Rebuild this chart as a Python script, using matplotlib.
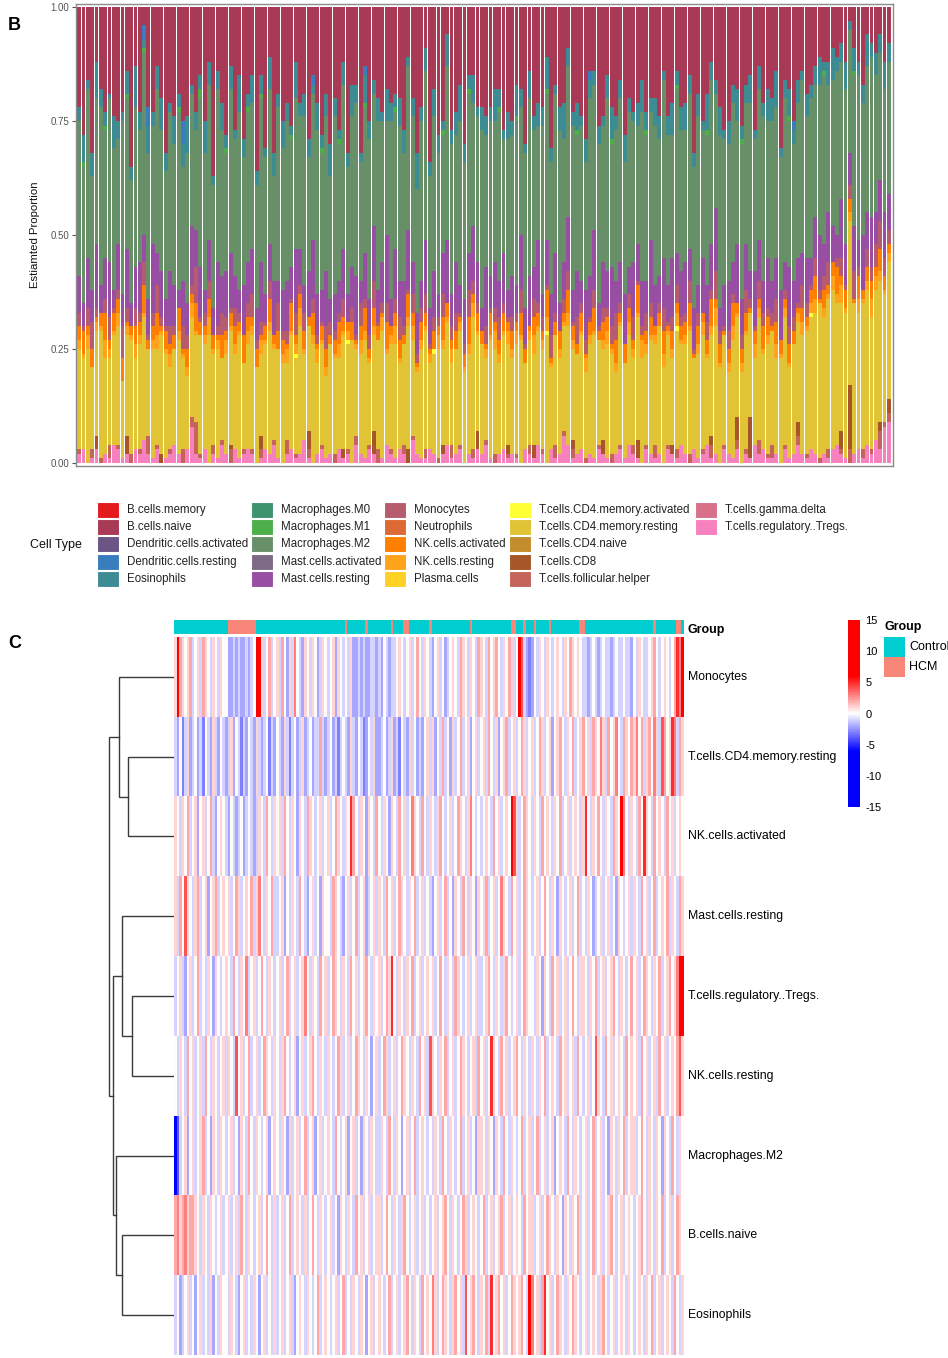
import matplotlib
matplotlib.use("Agg")
import matplotlib.pyplot as plt
import numpy as np
from matplotlib.colors import LinearSegmentedColormap, ListedColormap
from matplotlib.patches import Rectangle

plt.rcParams['font.family'] = ['Liberation Sans', 'DejaVu Sans']
plt.rcParams['axes.unicode_minus'] = False

# ---------------- panel B data (percent of each sample) ----------------
cell_types = ["B.cells.memory", "B.cells.naive", "Dendritic.cells.activated",
              "Dendritic.cells.resting", "Eosinophils", "Macrophages.M0",
              "Macrophages.M1", "Macrophages.M2", "Mast.cells.activated",
              "Mast.cells.resting", "Monocytes", "Neutrophils",
              "NK.cells.activated", "NK.cells.resting", "Plasma.cells",
              "T.cells.CD4.memory.activated", "T.cells.CD4.memory.resting",
              "T.cells.CD4.naive", "T.cells.CD8", "T.cells.follicular.helper",
              "T.cells.gamma.delta", "T.cells.regulatory..Tregs."]
cell_colors = ["#E41A1C", "#A83A55", "#6B5585", "#3A7DBE", "#3E8C93", "#3F9470",
               "#4DAF4A", "#679068", "#7F6A86", "#984EA3", "#B65C6E", "#DD6A34",
               "#FF7F00", "#FFA41A", "#FFD124", "#FFFF33", "#E0C436", "#C38C2C",
               "#A65628", "#C4645A", "#D8708A", "#F781BF"]

tregs = [2,3,0,1,3,0,2,1,4,3,1,2,0,3,2,5,2,1,3,0,
         1,2,4,2,0,3,8,2,1,3,0,2,1,4,2,0,3,1,2,3,
         2,0,1,3,2,4,1,0,2,3,1,2,5,1,0,2,3,1,2,0,
         3,1,2,0,4,2,1,3,2,0,1,4,2,1,3,2,0,5,2,1,
         1,3,2,0,2,4,1,2,3,0,2,1,3,2,4,1,0,2,3,1,
         2,1,0,3,2,1,4,2,0,3,1,2,6,4,1,2,3,0,2,1,
         3,2,1,0,2,3,1,4,2,1,0,3,2,1,2,0,3,2,1,4,
         2,0,3,1,2,4,1,2,0,3,2,1,3,0,2,1,4,2,3,1,
         1,2,0,3,1,2,4,2,
         1,3,2,0,2,1,3,4,2,1,0,2,3,1,4,2,5,3,8,9]
tfh = [1,0,0,2,0,1,0,3,0,1,0,0,2,0,1,0,4,0,1,0,
       0,1,0,0,3,0,2,7,1,0,0,2,0,1,0,3,0,0,1,0,
       1,0,2,0,0,1,0,0,3,0,1,0,0,2,0,0,1,0,0,2,
       0,0,1,0,2,0,0,1,0,3,0,0,1,0,0,2,0,1,0,0,
       2,0,0,1,0,0,3,0,1,0,0,2,0,0,1,0,2,0,0,1,
       0,1,0,0,2,0,0,1,0,0,3,0,1,0,2,0,0,1,0,0,
       1,0,0,2,0,1,0,0,2,0,0,1,0,3,0,0,1,0,2,0,
       0,2,0,0,1,0,3,0,0,1,0,0,2,0,1,0,0,3,0,1,
       3,0,0,1,0,0,2,0,
       1,0,0,1,0,2,0,0,1,0,3,0,0,2,0,1,0,4,1,2]
cd8 = [0,0,0,0,3,0,0,0,0,0,0,4,0,0,0,0,0,0,0,2,
       0,0,0,0,0,0,0,0,0,0,0,0,0,0,0,1,0,0,0,0,
       0,0,3,0,0,0,0,0,0,0,0,0,0,4,0,0,0,0,0,0,
       0,2,0,0,0,0,0,0,5,0,0,0,0,0,0,0,3,0,0,0,
       0,0,0,0,2,0,0,0,0,0,0,0,4,0,0,0,0,0,0,2,
       0,0,0,0,0,3,0,0,0,0,0,0,0,0,2,0,0,0,0,0,
       0,3,0,0,0,0,0,0,0,4,0,0,0,0,0,0,0,2,0,0,
       0,0,0,0,0,0,2,0,0,0,0,0,5,0,0,9,0,0,0,0,
       0,0,0,0,0,0,3,0,
       0,0,0,0,0,0,0,0,4,0,14,0,0,0,0,0,0,2,0,3]
cd4_mem_resting = [22,20,25,18,23,28,21,19,24,26,17,22,25,20,23,27,19,24,21,26,
                   23,18,21,25,20,16,22,19,26,23,28,20,24,18,22,25,21,27,19,23,
                   25,21,18,23,27,20,24,22,17,25,21,28,19,23,26,20,22,18,24,21,
                   20,25,23,27,19,22,26,18,21,24,28,20,23,25,19,22,27,21,18,24,
                   26,19,22,24,21,27,18,23,25,20,22,29,21,24,18,26,23,20,25,22,
                   21,24,27,19,23,20,25,22,28,18,24,21,23,26,20,22,25,19,24,27,
                   23,20,25,22,18,26,21,24,19,27,23,20,25,22,28,21,24,19,26,22,
                   24,27,20,23,25,19,22,28,21,24,18,26,22,20,25,23,19,27,21,24,
                   25,21,23,28,20,24,22,26,
                   27,29,31,34,30,33,35,31,28,32,36,33,30,32,34,29,33,31,28,30]
cd4_mem_activated = [0,0,0,0,0,0,0,0,0,0,0,0,0,0,0,0,0,0,0,0,
                     0,0,0,0,0,0,0,0,0,0,0,0,0,0,0,0,0,0,0,0,
                     0,0,0,0,0,0,0,0,0,0,1,0,0,0,0,0,0,0,0,0,
                     0,0,1,0,0,0,0,0,0,0,0,0,0,0,0,0,0,0,0,0,
                     0,0,1,0,0,0,0,0,0,0,0,0,0,0,0,0,0,0,0,0,
                     0,0,0,0,0,0,0,0,1,0,0,0,0,0,0,0,0,0,0,0,
                     0,0,0,0,0,0,0,0,0,0,0,0,0,0,0,0,0,0,1,0,
                     0,0,0,0,0,0,0,0,0,0,0,0,0,0,0,0,0,0,0,0,
                     0,0,0,0,0,0,0,0,
                     0,1,0,0,0,0,0,0,0,0,0,0,0,0,0,0,0,0,0,0]
nk_resting = [2,1,3,0,2,1,4,2,1,3,0,2,1,3,2,1,0,2,3,1,
              1,3,0,2,1,2,3,1,0,2,4,1,2,0,3,1,2,1,0,3,
              2,0,3,1,2,1,0,2,3,1,2,4,1,0,2,3,1,2,0,1,
              3,1,2,0,1,3,2,1,2,0,3,1,2,4,1,0,2,3,1,2,
              1,2,0,3,2,1,3,0,2,1,2,3,1,0,2,1,4,2,1,3,
              2,3,1,0,2,4,1,2,3,1,0,2,1,3,2,0,1,3,2,1,
              0,2,3,1,2,1,0,3,2,1,4,2,1,2,0,3,1,2,3,1,
              2,1,0,2,3,1,2,4,1,0,2,3,1,2,1,0,3,2,1,2,
              0,3,1,2,1,0,2,3,
              1,2,3,0,2,1,3,2,4,1,2,0,3,1,2,4,3,2,1,2]
nk_activated = [3,5,2,4,1,3,6,2,4,3,5,1,2,4,3,6,2,3,5,1,
                4,2,3,5,1,4,2,6,3,2,4,3,1,5,2,3,4,2,6,3,
                2,4,1,3,5,2,4,3,1,6,2,3,4,2,5,1,3,4,2,3,
                5,3,2,4,1,3,5,2,4,3,1,6,2,3,4,2,5,3,1,4,
                3,1,4,2,5,3,2,4,1,3,6,2,4,3,1,5,2,3,4,2,
                4,2,5,3,1,4,3,2,6,1,3,4,2,5,3,2,4,1,3,5,
                2,4,3,1,5,2,4,3,2,6,1,3,4,2,3,5,1,4,2,3,
                3,5,1,4,2,3,6,2,4,1,3,5,2,3,4,1,3,2,5,4,
                1,5,3,2,4,3,1,3,
                2,3,5,1,4,2,3,6,2,4,3,1,5,2,3,4,2,5,3,2]
monocytes = [3,1,4,6,2,0,3,5,1,2,7,3,0,4,2,5,1,3,6,2,
             1,4,2,0,5,3,2,8,1,3,4,0,2,5,3,1,4,2,0,3,
             5,2,3,1,4,0,6,2,3,1,5,2,4,0,3,2,1,5,3,2,
             2,4,0,3,1,5,2,3,6,1,2,4,0,3,5,2,1,4,2,3,
             4,1,3,2,5,0,3,4,1,2,6,3,2,0,4,1,3,5,2,1,
             3,2,5,1,0,4,2,3,1,5,2,0,3,4,1,6,2,3,1,4,
             1,3,2,4,6,2,0,3,5,1,2,4,3,0,2,5,1,3,4,2,
             2,5,1,3,0,4,2,6,3,1,4,2,0,3,5,2,1,4,3,2,
             3,5,0,2,4,3,1,5,
             3,1,4,2,3,5,0,2,4,1,3,6,2,0,4,3,5,6,4,3]
mast_resting = [8,5,11,7,14,6,9,12,4,10,7,13,5,9,11,6,8,15,7,10,
                6,12,9,4,10,7,13,8,11,5,9,6,14,8,10,12,7,5,11,9,
                10,7,13,6,8,12,5,9,11,7,14,8,6,10,13,9,7,12,5,8,
                7,11,6,9,13,5,10,8,12,7,9,15,6,11,8,10,13,7,9,6,
                12,8,10,5,9,14,7,11,6,10,8,12,9,5,13,7,10,8,11,6,
                9,6,12,8,11,7,14,5,10,9,13,6,8,12,7,10,5,11,9,13,
                5,10,8,13,7,9,11,6,12,8,10,7,14,9,6,11,8,13,7,10,
                11,7,9,6,12,8,10,14,5,9,11,7,13,8,10,6,12,9,7,11,
                7,9,11,6,13,8,10,7,
                10,6,9,12,7,11,8,5,13,9,7,10,6,12,8,11,7,9,10,8]
macrophages_m2 = [34,30,37,25,32,39,28,36,31,23,38,33,27,35,29,40,32,26,36,31,
                  28,35,31,39,25,33,29,22,37,30,34,27,38,32,26,36,30,39,28,33,
                  32,27,36,30,34,23,38,31,35,28,33,29,37,25,32,36,30,34,27,39,
                  30,36,28,33,38,26,32,35,29,37,31,25,39,30,34,28,36,32,27,35,
                  37,29,34,31,26,38,33,28,36,30,35,27,32,39,29,34,31,37,25,33,
                  31,36,28,34,39,30,25,37,32,29,35,38,27,33,36,30,34,28,39,32,
                  35,30,38,27,33,36,29,34,31,26,37,32,28,35,30,39,33,27,36,31,
                  29,34,31,37,28,33,36,25,38,32,30,35,27,34,31,37,29,33,36,30,
                  35,33,29,36,32,30,34,38,
                  31,35,29,33,37,28,32,36,30,34,27,33,36,29,32,35,30,28,27,29]
macrophages_m1 = [0,1,0,0,0,0,1,0,0,0,0,1,0,0,0,1,0,0,0,0,
                  0,0,0,1,0,0,0,0,2,0,0,0,0,0,1,0,0,0,0,1,
                  0,0,1,0,0,0,0,0,0,1,0,0,0,0,0,0,1,0,0,0,
                  1,0,0,0,0,0,1,0,0,0,0,0,0,1,0,0,0,0,0,0,
                  0,0,0,0,1,0,0,0,0,0,1,0,0,0,0,0,0,1,0,0,
                  0,1,0,0,0,0,0,0,1,0,0,0,0,0,0,1,0,0,0,0,
                  0,0,0,1,0,0,0,0,0,0,0,1,0,0,0,0,0,0,1,0,
                  0,0,0,0,0,1,0,0,0,0,0,0,0,1,0,0,0,0,0,0,
                  0,0,0,0,1,0,0,0,
                  0,0,0,0,1,0,0,0,0,0,0,1,0,0,0,0,0,0,0,0]
eosinophils = [3,6,2,5,8,4,3,1,7,4,2,5,3,9,4,2,6,3,5,7,
               4,2,6,3,5,8,2,4,3,7,5,2,4,6,3,5,2,8,4,3,
               6,3,4,2,7,5,3,6,4,2,8,3,5,4,2,6,3,5,7,4,
               2,5,3,7,4,2,6,4,3,5,2,7,4,3,6,5,2,4,8,3,
               5,3,6,4,2,7,3,5,8,4,3,6,2,5,4,3,7,4,2,6,
               3,7,4,2,6,3,5,4,7,3,2,5,8,4,3,6,2,5,4,3,
               4,2,5,7,3,4,6,3,2,5,7,4,3,6,5,2,4,7,3,5,
               6,4,3,5,2,8,4,3,6,2,5,4,7,3,4,6,2,5,3,7,
               5,8,2,4,6,3,5,2,
               5,3,4,6,2,5,7,3,4,6,2,5,3,4,7,3,5,4,6,4]
dc_resting = [0,0,0,0,0,0,0,0,0,0,0,0,0,0,0,3,4,0,0,0,
              0,0,0,0,5,0,0,0,0,0,0,0,0,0,0,0,0,0,0,0,
              0,0,0,0,0,0,0,0,0,0,0,0,0,0,2,0,0,0,0,0,
              0,0,0,0,0,0,2,0,0,0,0,0,0,0,0,0,0,0,0,0,
              0,0,0,0,0,0,0,0,0,0,0,0,0,0,0,0,0,0,0,0,
              0,0,0,0,0,0,0,0,0,0,0,0,0,0,0,0,0,0,2,0,
              0,0,0,0,0,0,0,0,0,0,0,0,0,0,0,0,0,0,0,0,
              0,0,0,0,0,0,0,0,0,0,0,0,0,0,0,0,0,0,0,0,
              0,0,0,0,0,2,0,0,
              0,0,0,0,0,0,0,0,0,0,0,0,0,0,0,0,0,0,0,0]

# ---------------- panel C data ----------------
heat_rows = ["Monocytes", "T.cells.CD4.memory.resting", "NK.cells.activated",
             "Mast.cells.resting", "T.cells.regulatory..Tregs.", "NK.cells.resting",
             "Macrophages.M2", "B.cells.naive", "Eosinophils"]
hm_monocytes = [1,9,2,1,0,1,2,-1,0,1,-1,2,1,0,-1,1,0,-1,1,0,
                0,-2,-2,-1,-2,-1,-2,-2,-1,-2,-1,0,8,6,1,-1,0,2,-1,0,
                1,-1,2,0,-2,1,-1,3,0,-1,-2,1,0,-1,1,0,-2,-1,1,0,
                -1,0,1,-2,1,0,-1,0,-1,1,-2,-2,-1,-2,-1,-2,-2,-1,-1,-2,
                -1,-2,0,-1,-2,-1,-1,0,1,0,-1,0,1,-1,0,2,0,-1,1,0,
                -1,-2,0,1,-1,0,-2,-1,0,1,0,-1,2,1,0,-1,1,0,-1,2,
                1,0,-1,2,0,1,2,0,-1,1,0,2,1,-1,0,12,4,-1,-2,-3,
                -2,0,-1,1,0,-1,1,0,-1,0,1,0,-1,1,0,2,1,0,1,0,
                -1,-1,-2,-1,0,-1,-2,-1,0,-1,-1,-2,-1,0,-1,-1,0,-1,-1,-2,
                0,-1,1,0,-1,-1,0,1,2,0,-1,0,1,0,-1,0,2,5,3,6]
hm_cd4_resting = [-1,-2,0,-3,-1,1,-2,-1,0,-2,-1,-3,0,-1,-2,1,-1,-2,0,-1,
                  -2,-1,1,-2,0,-1,-3,-1,-2,0,-1,-2,1,-1,-2,-1,0,-3,-1,-2,
                  0,-1,-2,1,-1,-3,-1,0,-2,-1,1,-2,-1,0,-2,-1,-1,2,-1,-2,
                  -1,0,-2,-1,-3,-1,0,-1,-2,1,-1,-2,0,-1,-3,-2,0,-1,1,-2,
                  -2,-1,0,-2,-1,1,-2,-1,-3,0,-1,-2,1,-1,0,-2,-1,-2,0,1,
                  -1,1,-2,0,-1,2,-1,0,-2,1,-1,0,2,-1,0,1,-2,0,1,-1,
                  0,1,-1,2,0,-1,1,-2,0,1,2,-1,0,1,-1,0,2,1,-1,0,
                  1,-1,0,2,1,-1,0,1,-2,0,1,2,0,-1,1,0,2,-1,0,1,
                  2,0,1,-1,2,1,0,3,1,-1,2,0,1,3,0,-1,2,1,0,2,
                  1,3,0,2,-1,1,2,0,3,1,-1,4,2,0,1,5,3,-1,2,1]
hm_nk_activated = [1,0,-1,1,0,2,-1,0,1,-2,0,1,-1,0,2,-1,-2,0,1,0,
                   -1,-2,0,-1,-2,-1,0,-2,-1,0,-1,-2,-1,1,0,-1,2,0,-1,1,
                   0,1,-1,2,0,-1,1,0,-2,1,0,-1,2,1,0,-1,0,1,-1,0,
                   1,-1,0,2,1,0,-1,1,0,5,2,0,-1,1,0,-2,1,0,-1,2,
                   0,-1,1,0,-2,1,0,-1,2,0,1,-1,0,3,1,0,-1,2,0,-1,
                   1,0,-1,1,2,0,-1,0,1,-1,0,2,1,0,-1,1,3,0,-1,0,
                   -1,0,1,0,-1,2,0,1,-1,0,1,0,9,4,1,-1,0,2,1,0,
                   -1,1,0,-1,2,0,1,0,-1,1,0,2,-1,0,1,-1,0,1,0,-1,
                   1,5,0,-1,1,0,2,0,-1,1,0,-1,2,1,0,6,3,0,-1,1,
                   0,-1,2,0,5,1,0,-1,2,0,1,0,-1,2,0,1,-1,0,1,0]
hm_mast_resting = [1,-1,2,0,4,1,0,-1,1,2,-1,0,1,-2,0,1,2,-1,0,1,
                   0,1,-1,0,2,1,-1,0,1,0,2,-1,1,3,0,-1,1,0,2,-1,
                   -1,0,1,-2,0,-1,1,0,-1,2,0,-1,-2,0,1,-1,0,-2,1,0,
                   0,-1,2,1,0,-1,-2,0,1,-1,0,2,-1,0,1,-2,-1,0,1,-1,
                   1,0,-1,2,0,1,-1,0,2,1,0,-1,1,0,2,-1,0,1,-1,0,
                   -1,-2,0,1,-1,0,2,-1,0,-2,1,0,-1,2,0,-1,1,0,-2,1,
                   0,1,2,-1,0,1,-1,0,3,1,0,-1,2,0,1,-1,0,2,1,0,
                   -1,0,1,-1,0,2,0,-1,1,0,-2,1,0,-1,0,1,-1,0,2,-1,
                   0,-1,1,0,-2,-1,0,1,-1,0,1,-1,0,-2,1,0,-1,0,1,-1,
                   1,0,-1,2,0,1,-1,0,2,-1,0,1,0,2,-1,1,0,-1,2,1]
hm_tregs = [-1,0,1,-1,-2,0,1,-1,0,2,-1,0,-1,1,0,-2,1,0,-1,0,
            1,0,-1,2,0,-1,1,0,3,-1,0,1,-1,0,2,0,-1,1,0,-1,
            0,1,-1,0,2,-1,0,1,-1,0,1,3,0,-1,1,0,-1,2,0,1,
            -1,0,2,1,0,-1,1,0,-1,2,0,1,-1,0,1,2,0,-1,1,0,
            1,-1,0,2,1,5,0,-1,1,0,-1,1,0,2,-1,0,1,-1,0,1,
            0,1,-1,0,2,0,-1,1,0,-1,2,1,0,-1,0,1,-1,0,1,-1,
            -1,0,1,2,0,-1,1,0,-1,1,2,0,-1,0,1,-1,0,2,1,0,
            0,-1,1,0,-2,1,0,-1,2,0,1,-1,0,1,-1,0,2,0,-1,1,
            1,0,-1,1,0,2,-1,0,1,-1,0,1,2,0,-1,1,0,-1,0,2,
            0,1,-1,0,2,1,0,-1,1,0,2,-1,0,1,2,0,1,3,6,10]
hm_nk_resting = [0,-1,1,0,-1,2,0,1,-1,0,1,-1,2,0,-1,1,0,-1,0,1,
                 -1,1,0,-1,4,0,1,-1,0,2,-1,0,1,-1,0,2,1,0,-1,1,
                 0,-1,1,2,0,-1,0,1,-2,0,1,-1,0,1,2,0,-1,1,0,-1,
                 1,0,-1,0,2,1,-1,0,1,-1,0,2,1,0,-1,1,0,-2,0,1,
                 -1,0,2,1,-1,0,1,-1,0,2,1,0,-1,1,0,-1,2,0,1,-1,
                 4,1,0,-1,1,0,2,-1,0,1,-1,0,2,1,0,-1,0,1,-1,2,
                 0,1,-1,0,5,1,0,-1,2,0,1,-1,0,1,2,0,-1,1,0,-1,
                 1,0,-1,1,0,2,-1,0,1,0,-1,2,0,1,-1,0,1,-1,2,0,
                 -1,0,1,-1,0,4,1,0,-1,2,0,1,-1,0,1,0,-1,2,0,1,
                 0,1,-1,2,0,1,-1,0,1,-1,2,0,1,-1,0,1,0,2,4,1]
hm_m2 = [-6,-4,-1,0,1,-2,0,1,-1,0,1,2,-1,0,-2,1,0,-1,1,0,
         -1,0,1,-1,0,-2,1,0,-1,2,0,-1,1,0,-1,0,1,-2,0,1,
         0,-1,1,0,-2,1,-1,0,1,-1,0,2,-1,0,1,-2,0,1,-1,0,
         1,0,-1,2,0,-1,0,1,-2,0,1,-1,0,-2,1,0,-1,1,0,-1,
         -1,1,0,-1,2,0,-1,1,0,-2,0,1,-1,0,2,-1,0,1,0,-1,
         0,-1,1,0,-1,2,0,-1,1,0,-1,0,2,-1,0,1,-1,0,-2,1,
         1,0,-1,1,0,-2,1,0,-1,2,0,-1,1,0,-1,0,2,-1,0,1,
         -1,0,2,-1,0,1,-1,0,1,-2,0,1,0,-1,2,0,-1,1,0,-1,
         0,1,-1,0,2,-1,0,1,-1,0,-2,1,0,-1,1,0,2,-1,0,1,
         1,-1,0,2,0,-1,1,0,-1,1,0,-2,1,0,-1,2,0,-1,1,0]
hm_b_naive = [2,3,1,2,3,1,2,2,1,0,-1,1,0,-1,1,0,-1,0,1,-1,
              0,1,-1,0,1,-1,2,0,-1,1,0,-1,0,1,-1,0,2,0,-1,1,
              -1,0,1,-1,0,2,-1,0,1,0,-1,1,-1,0,2,0,-1,1,0,-1,
              0,1,-1,0,-2,1,0,-1,1,0,-1,2,0,1,-1,0,1,-1,0,1,
              1,-1,0,2,0,-1,1,0,-1,1,2,0,-1,0,1,-1,0,1,-1,0,
              -1,0,1,-1,0,1,2,0,-1,1,0,-1,0,2,1,-1,0,1,0,-1,
              0,2,-1,0,1,-1,0,1,2,-1,0,1,-1,0,1,0,-1,2,0,1,
              1,-1,0,1,-1,0,2,1,0,-1,1,0,-2,1,0,-1,1,0,2,-1,
              0,1,-1,0,2,-1,0,1,-1,0,1,2,0,-1,0,1,-1,0,1,0,
              -1,0,1,2,0,-1,1,0,-1,1,0,2,-1,0,1,-1,0,2,1,0]
hm_eosinophils = [-1,0,-2,-1,0,1,-1,0,-2,0,1,-1,0,-1,1,-2,0,-1,1,0,
                  0,-1,1,0,-1,-2,0,1,-1,0,-1,1,0,-2,0,1,-1,0,-1,1,
                  -1,0,1,-1,0,1,-1,-2,0,1,0,-1,1,0,-1,0,2,-1,0,1,
                  0,-1,0,1,-1,0,2,-1,0,-1,1,0,-1,1,0,-2,0,1,-1,0,
                  1,0,-1,0,2,-1,0,1,-1,0,1,2,0,-1,1,0,-1,2,0,1,
                  0,3,1,-1,0,2,1,0,-1,1,2,0,1,-1,4,0,1,2,0,-1,
                  1,0,2,-1,5,0,1,2,0,1,-1,0,2,1,0,1,2,0,-1,8,
                  3,0,1,-1,2,5,0,1,-1,0,2,1,0,-1,1,0,2,1,0,-1,
                  0,1,-1,0,1,0,-1,1,2,0,-1,0,1,-1,0,1,0,-1,1,0,
                  -1,0,1,0,-1,1,0,2,-1,0,1,-1,0,1,0,-1,2,0,-1,1]

group_runs = [("Control", 21), ("HCM", 11), ("Control", 35), ("HCM", 1), ("Control", 7),
              ("HCM", 1), ("Control", 9), ("HCM", 1), ("Control", 4), ("HCM", 2),
              ("Control", 8), ("HCM", 1), ("Control", 15), ("HCM", 1), ("Control", 15),
              ("HCM", 2), ("Control", 3), ("HCM", 1), ("Control", 3), ("HCM", 1),
              ("Control", 5), ("HCM", 1), ("Control", 11), ("HCM", 2), ("Control", 27),
              ("HCM", 1), ("Control", 8), ("HCM", 2), ("Control", 1)]
group_colors = {"Control": "#00CED1", "HCM": "#F8877A"}

# row dendrogram: (left, right, height); ints point to earlier merges
dendro_merges = [("T.cells.CD4.memory.resting", "NK.cells.activated", 4.60),
                 ("Monocytes", 0, 5.47),
                 ("T.cells.regulatory..Tregs.", "NK.cells.resting", 4.17),
                 ("Mast.cells.resting", 2, 5.23),
                 ("B.cells.naive", "Eosinophils", 5.23),
                 ("Macrophages.M2", 4, 5.80),
                 (3, 5, 6.07),
                 (1, 6, 6.53)]

# ---------------- figure ----------------
W, H = 948, 1358
fig = plt.figure(figsize=(W / 100, H / 100), dpi=100)


def px_axes(x0, y0, x1, y1):
    return fig.add_axes([x0 / W, 1 - y1 / H, (x1 - x0) / W, (y1 - y0) / H])


overlay = px_axes(0, 0, W, H)
overlay.set_xlim(0, W)
overlay.set_ylim(H, 0)
overlay.axis('off')

# ---- panel B: stacked bars ----
stack = {
    "T.cells.regulatory..Tregs.": tregs,
    "T.cells.follicular.helper": tfh,
    "T.cells.CD8": cd8,
    "T.cells.CD4.memory.resting": cd4_mem_resting,
    "T.cells.CD4.memory.activated": cd4_mem_activated,
    "NK.cells.resting": nk_resting,
    "NK.cells.activated": nk_activated,
    "Monocytes": monocytes,
    "Mast.cells.resting": mast_resting,
    "Macrophages.M2": macrophages_m2,
    "Macrophages.M1": macrophages_m1,
    "Eosinophils": eosinophils,
    "Dendritic.cells.resting": dc_resting,
}
others = np.sum([np.array(v, float) for v in stack.values()], axis=0)
stack["B.cells.naive"] = np.clip(100 - others, 3, None)
total = others + stack["B.cells.naive"]

ax = px_axes(76, 4, 893, 466)
n = len(total)
x = np.arange(n)
bottom = np.zeros(n)
for name, vals in stack.items():
    frac = np.array(vals, float) / total
    ax.bar(x, frac, bottom=bottom, width=0.9, color=cell_colors[cell_types.index(name)],
           linewidth=0, antialiased=False)
    bottom += frac
ax.set_xlim(-0.73, n - 0.04)
ax.set_ylim(-0.0066, 1.0066)
ax.set_xticks([])
ax.set_yticks([0, 0.25, 0.5, 0.75, 1.0])
ax.set_yticklabels(["0.00", "0.25", "0.50", "0.75", "1.00"])
ax.tick_params(axis='y', length=3, width=0.8, colors='#555555', labelsize=7, pad=2)
for s in ax.spines.values():
    s.set_color('#8a8a8a')
    s.set_linewidth(1.0)
overlay.text(35, 235, "Estiamted Proportion", rotation=90, ha='center', va='center',
             fontsize=8.2, color='#111111')
overlay.text(8, 26, "B", fontsize=13, fontweight='bold', ha='left', va='center')

# legend of cell types
col_key_x = [97, 251, 384, 509, 695]
row_y0, row_step = 510, 17.2
overlay.text(30, 545, "Cell Type", fontsize=9, ha='left', va='center', color='#111111')
for i, (name, col) in enumerate(zip(cell_types, cell_colors)):
    c, r = divmod(i, 5)
    kx, ky = col_key_x[c], row_y0 + r * row_step
    overlay.add_patch(Rectangle((kx, ky - 8), 22, 16, facecolor=col,
                                edgecolor='white', linewidth=0.8))
    overlay.text(kx + 30, ky, name, fontsize=8.3, ha='left', va='center', color='#222222')

# ---- panel C: heatmap ----
heat = np.array([hm_monocytes, hm_cd4_resting, hm_nk_activated, hm_mast_resting,
                 hm_tregs, hm_nk_resting, hm_m2, hm_b_naive, hm_eosinophils], float)
cmap = LinearSegmentedColormap.from_list(
    "bwr_sat", [(0.0, "#0000FF"), (0.3, "#0000FF"), (0.5, "#FFFFFF"),
                (0.7, "#FF0000"), (1.0, "#FF0000")])
hx = px_axes(174, 637, 684, 1355)
im = hx.imshow(heat, aspect='auto', cmap=cmap, vmin=-15, vmax=15, interpolation='nearest')
hx.axis('off')

group_labels = [g for g, k in group_runs for _ in range(k)]
group_codes = np.array([[0 if g == "Control" else 1 for g in group_labels]])
gx = px_axes(174, 620, 684, 634)
gx.imshow(group_codes, aspect='auto', interpolation='nearest',
          cmap=ListedColormap([group_colors["Control"], group_colors["HCM"]]), vmin=0, vmax=1)
gx.axis('off')
overlay.text(688, 630, "Group", fontsize=9, fontweight='bold', ha='left', va='center')

row_h = (1355 - 637) / len(heat_rows)
for i, name in enumerate(heat_rows):
    overlay.text(688, 637 + (i + 0.5) * row_h, name, fontsize=8.8, ha='left', va='center')

# dendrogram
dx = px_axes(100, 637, 174, 1355)
dx.set_xlim(7.4, 0)
dx.set_ylim(len(heat_rows), 0)
dx.axis('off')
nodes = []


def node_pos(ref):
    if isinstance(ref, int):
        return nodes[ref]
    return heat_rows.index(ref) + 0.5, 0.0


for left, right, h in dendro_merges:
    (y1, h1), (y2, h2) = node_pos(left), node_pos(right)
    dx.plot([h1, h, h, h2], [y1, y1, y2, y2], color='#3a3a3a', lw=1.0,
            solid_joinstyle='miter')
    nodes.append(((y1 + y2) / 2, h))
overlay.text(8, 644, "C", fontsize=13, fontweight='bold', ha='left', va='center')

# colorbar
cax = px_axes(848, 620, 860, 807)
cb = fig.colorbar(im, cax=cax, ticks=[15, 10, 5, 0, -5, -10, -15])
cb.outline.set_visible(False)
cax.tick_params(length=0, labelsize=8, pad=4)

# group legend
overlay.text(885, 627, "Group", fontsize=9, fontweight='bold', ha='left', va='center')
for i, g in enumerate(["Control", "HCM"]):
    overlay.add_patch(Rectangle((884, 637 + i * 20), 21, 20, facecolor=group_colors[g],
                                edgecolor='none'))
    overlay.text(909, 647 + i * 20, g, fontsize=9, ha='left', va='center')

fig.savefig("out.png", dpi=100)
